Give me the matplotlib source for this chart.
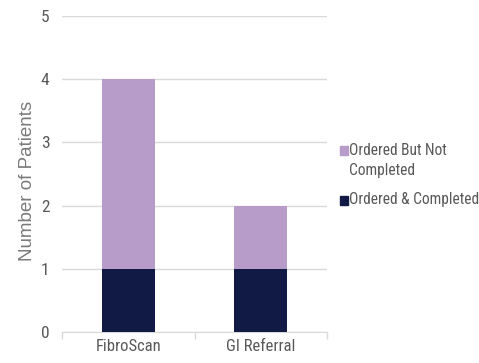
import matplotlib
matplotlib.use("Agg")
import matplotlib.pyplot as plt
from matplotlib.patches import Rectangle
import numpy as np

categories = ["FibroScan", "GI Referral"]
completed = [1, 1]
not_completed = [3, 1]
yticks = [0, 1, 2, 3, 4, 5]
legend_labels = ["Ordered But Not\nCompleted", "Ordered & Completed"]

plt.rcParams['font.family'] = ['Roboto Condensed', 'Liberation Sans']
plt.rcParams['font.stretch'] = 'condensed'
gray = '#595959'
c_col = '#111a45'
n_col = '#b79bc9'

W, H = 479, 363
fig = plt.figure(figsize=(W / 100, H / 100), dpi=100)
ax = fig.add_axes([62 / W, 1 - 332 / H, (327 - 62) / W, (332 - 16) / H])

x = np.arange(len(categories))
b1 = ax.bar(x, completed, width=0.4, color=c_col, zorder=3)
b2 = ax.bar(x, not_completed, width=0.4, bottom=completed, color=n_col, zorder=3)

ax.set_xlim(-0.5, len(categories) - 0.5)
ax.set_ylim(0, 5)
ax.set_yticks(yticks)
ax.set_yticklabels([str(v) for v in yticks], fontsize=12.5, color=gray)
ax.set_xticks(x)
ax.set_xticklabels(categories, fontsize=12, color=gray)
ax.tick_params(axis='y', length=0, pad=9)
ax.tick_params(axis='x', length=0, pad=5)
ax.set_xticks(np.arange(-0.5, len(categories), 1.0), minor=True)
ax.tick_params(axis='x', which='minor', length=5, color='#d9d9d9', width=1)
ax.yaxis.grid(True, color='#d9d9d9', linewidth=1, zorder=0)
for s in ['top', 'right', 'left']:
    ax.spines[s].set_visible(False)
ax.spines['bottom'].set_color('#d9d9d9')
fig.text(28 / W, 1 - 181 / H, 'Number of Patients', rotation=90, fontsize=13.5,
         color='#7a7a7a', ha='center', va='center', family='Liberation Sans', stretch='normal')

# legend drawn manually (top-aligned handle for wrapped label)
leg_items = [(legend_labels[0], n_col, 151), (legend_labels[1], c_col, 200)]
for label, col, yc in leg_items:
    fig.add_artist(Rectangle((340 / W, 1 - (yc + 4.5) / H), 8 / W, 9 / H,
                             transform=fig.transFigure, color=col))
    fig.text(349 / W, 1 - (yc - 8) / H, label, fontsize=11.2, color=gray,
             ha='left', va='top', linespacing=1.45)

fig.savefig('out.png', dpi=100)
